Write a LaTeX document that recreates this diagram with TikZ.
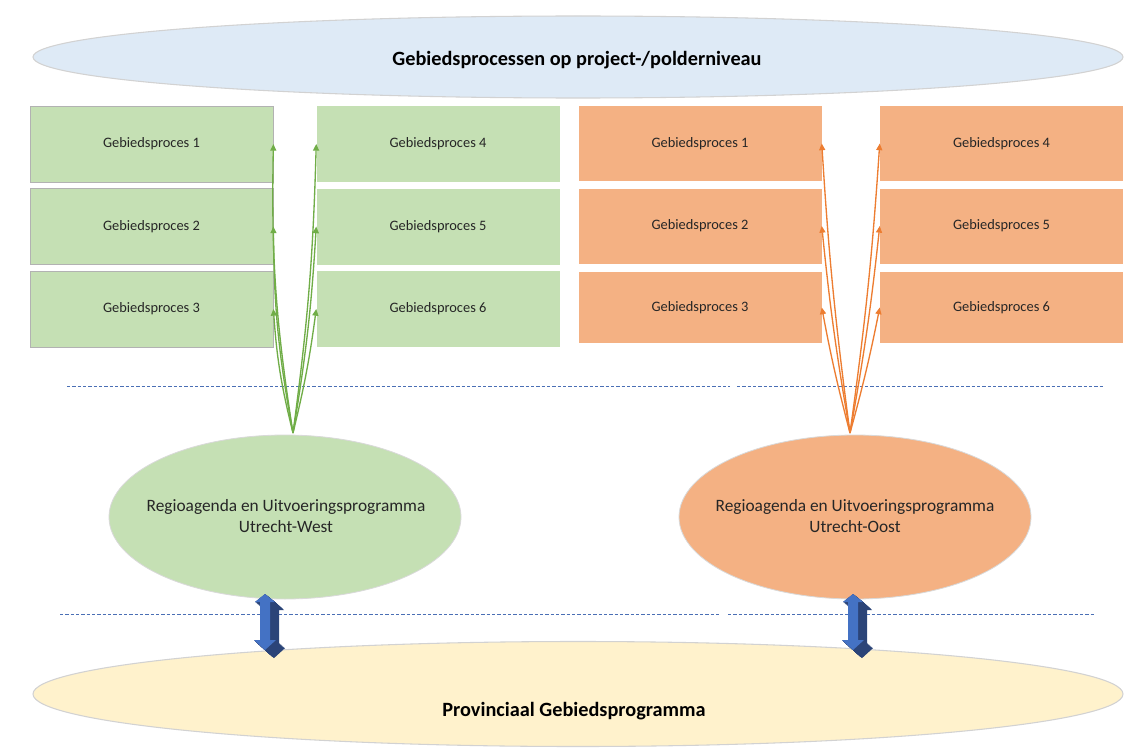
\documentclass[tikz,border=0pt]{standalone}
\usepackage{fontspec}
\setmainfont{Carlito}
\usetikzlibrary{shapes.geometric,arrows.meta}
\definecolor{topblue}{HTML}{DEEAF6}
\definecolor{grn}{HTML}{C5E0B4}
\definecolor{org}{HTML}{F4B183}
\definecolor{yel}{HTML}{FFF2CC}
\definecolor{grnline}{HTML}{70AD47}
\definecolor{orgline}{HTML}{ED7D31}
\definecolor{dashblue}{HTML}{4A6FB5}
\definecolor{blkfront}{HTML}{4472C4}
\definecolor{blkdark}{HTML}{2B4478}
\definecolor{txt}{HTML}{262626}
\begin{document}
\begin{tikzpicture}[x=0.75pt,y=-0.75pt,
  bigell/.style={ellipse,inner sep=0pt,draw=gray!35,line width=0.8pt},
  bigtxt/.style={font=\bfseries\fontsize{15.2}{18}\selectfont},
  regell/.style={ellipse,inner sep=0pt,draw=gray!30,line width=0.6pt,minimum width={352*0.75pt},minimum height={164*0.75pt}},
  regtxt/.style={align=center,font=\fontsize{13}{15.5}\selectfont,text=txt},
  gbox/.style={rectangle,inner sep=0pt,fill=grn,text=txt,font=\fontsize{10.8}{13}\selectfont,minimum width={243*0.75pt},minimum height={76*0.75pt}},
  gboxb/.style={gbox,draw=gray!60,line width=0.6pt},
  obox/.style={rectangle,inner sep=0pt,fill=org,text=txt,font=\fontsize{10.8}{13}\selectfont,minimum width={243*0.75pt},minimum height={75*0.75pt}},
  garrow/.style={draw=grnline,line width=1pt,-{Triangle[length=5pt,width=4.5pt]}},
  oarrow/.style={draw=orgline,line width=1pt,-{Triangle[length=5pt,width=4.5pt]}},
  sep/.style={draw=dashblue,line width=0.6pt,dash pattern=on 2.5pt off 1.5pt},
  dbl/.pic={
    \foreach \i in {0,0.5,...,9}{
      \fill[blkdark,shift={(\i,\i*0.9)}] (0,0)--(10,8)--(5,8)--(5,46)--(11,46)--(0,56)--(-11,46)--(-5,46)--(-5,8)--(-10,8)--cycle;}
    \fill[blkfront] (0,0)--(10,8)--(5,8)--(5,46)--(11,46)--(0,56)--(-11,46)--(-5,46)--(-5,8)--(-10,8)--cycle;
  }]
\useasboundingbox (0,0) rectangle (1132,749);
\fill[white] (0,0) rectangle (1132,749);

% top ellipse
\node[bigell,fill=topblue,minimum width={1090*0.75pt},minimum height={82*0.75pt}] (top) at (578,57) {};
\node[bigtxt] (toptxt) at (577,60) {Gebiedsprocessen op project-/polderniveau};

% green boxes
\node[gboxb] (g1) at (151.5,144) {Gebiedsproces 1};
\node[gboxb] (g2) at (151.5,226.5) {Gebiedsproces 2};
\node[gboxb] (g3) at (151.5,309) {Gebiedsproces 3};
\node[gbox] (g4) at (438,144) {Gebiedsproces 4};
\node[gbox] (g5) at (438,226.5) {Gebiedsproces 5};
\node[gbox] (g6) at (438,309) {Gebiedsproces 6};

% orange boxes
\node[obox] (o1) at (700,143.5) {Gebiedsproces 1};
\node[obox] (o2) at (700,226) {Gebiedsproces 2};
\node[obox,minimum height={71*0.75pt}] (o3) at (700,307.5) {Gebiedsproces 3};
\node[obox] (o4) at (1001.5,143.5) {Gebiedsproces 4};
\node[obox] (o5) at (1001.5,226) {Gebiedsproces 5};
\node[obox,minimum height={71*0.75pt}] (o6) at (1001.5,307.5) {Gebiedsproces 6};

% dashed separators
\draw[sep] (67,386) -- (730,386);
\draw[sep] (737,386) -- (1103,386);
\draw[sep] (60,614) -- (720,614);
\draw[sep] (728,614) -- (1096,614);

% bottom ellipse
\node[bigell,fill=yel,minimum width={1090*0.75pt},minimum height={105*0.75pt}] (bot) at (578,694) {};
\node[bigtxt] (bottxt) at (574,711) {Provinciaal Gebiedsprogramma};

% region ellipses
\node[regell,fill=grn] (west) at (285,517) {};
\node[regtxt] (westtxt) at (286,516) {Regioagenda en Uitvoeringsprogramma\\Utrecht-West};
\node[regell,fill=org] (oost) at (855,517) {};
\node[regtxt] (oosttxt) at (855,516) {Regioagenda en Uitvoeringsprogramma\\Utrecht-Oost};

% arrows
\coordinate (gsrc) at (293,433);
\coordinate (osrc) at (850,433);
\draw[garrow] (gsrc) to[bend left=5] (g1.east);
\draw[garrow] (gsrc) to[bend left=5] (g2.east);
\draw[garrow] (gsrc) to[bend left=5] (g3.east);
\draw[garrow] (gsrc) to[bend right=3] (g4.west);
\draw[garrow] (gsrc) to[bend right=3] (g5.west);
\draw[garrow] (gsrc) to[bend right=3] (g6.west);
\draw[oarrow] (osrc) to[bend left=2] (o1.east);
\draw[oarrow] (osrc) to[bend left=2] (o2.east);
\draw[oarrow] (osrc) to[bend left=2] (o3.east);
\draw[oarrow] (osrc) to[bend right=2] (o4.west);
\draw[oarrow] (osrc) to[bend right=2] (o5.west);
\draw[oarrow] (osrc) to[bend right=2] (o6.west);

% block double arrows
\coordinate (wa) at (265,594);
\coordinate (oa) at (853,594);
\pic at (wa) {dbl};
\pic at (oa) {dbl};
\end{tikzpicture}
\end{document}
